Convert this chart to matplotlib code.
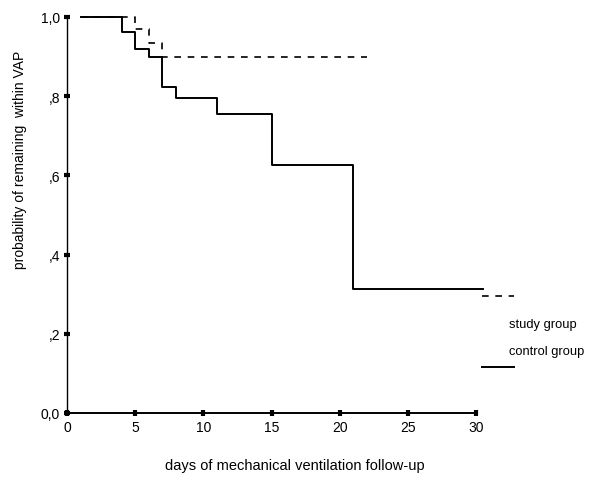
import matplotlib
matplotlib.use("Agg")
import matplotlib.pyplot as plt

plt.rcParams['font.family'] = ['Liberation Sans', 'DejaVu Sans']

# Kaplan-Meier steps
control_days = [1, 4, 5, 6, 7, 8, 11, 15, 21, 30.5]
control_prob = [1.0, 0.962, 0.92, 0.90, 0.823, 0.795, 0.755, 0.627, 0.313, 0.313]
study_days = [1, 5, 6, 7, 22]
study_prob = [1.0, 0.97, 0.935, 0.90, 0.90]

y_ticks = [0, 0.2, 0.4, 0.6, 0.8, 1.0]
y_labels = ["0,0", ",2", ",4", ",6", ",8", "1,0"]
x_ticks = [0, 5, 10, 15, 20, 25, 30]

fig = plt.figure(figsize=(5.89, 4.81), dpi=100)
ax = fig.add_axes([0.1138, 0.1393, 0.6944, 0.8233])

ax.step(control_days, control_prob, where="post", color="black", lw=1.4, clip_on=False)
ax.step(study_days, study_prob, where="post", color="black", lw=1.2,
        dashes=(4, 4), clip_on=False)

ax.set_xlim(0, 30)
ax.set_ylim(0, 1)
ax.set_xticks(x_ticks)
ax.set_yticks(y_ticks)
ax.set_yticklabels(y_labels)
ax.spines["top"].set_visible(False)
ax.spines["right"].set_visible(False)
ax.spines["left"].set_linewidth(1.0)
ax.spines["bottom"].set_linewidth(1.4)
ax.tick_params(direction="inout", length=4, width=3, labelsize=10, pad=3)

# legend drawn by hand like the original
ax.plot([1.015, 1.093], [0.295, 0.295], transform=ax.transAxes, color="black",
        lw=1.2, dashes=(4, 4), clip_on=False)
ax.plot([1.015, 1.093], [0.116, 0.116], transform=ax.transAxes, color="black",
        lw=1.4, clip_on=False)
ax.text(1.080, 0.225, "study group", transform=ax.transAxes, fontsize=9.3, va="center")
ax.text(1.080, 0.157, "control group", transform=ax.transAxes, fontsize=9.3, va="center")

fig.text(20 / 589, 1 - 160 / 481, "probability of remaining  within VAP", rotation=90,
         ha="center", va="center", fontsize=10)
fig.text(295 / 589, 1 - 466 / 481, "days of mechanical ventilation follow-up",
         ha="center", va="center", fontsize=10.5)

fig.savefig("out.png", dpi=100)
